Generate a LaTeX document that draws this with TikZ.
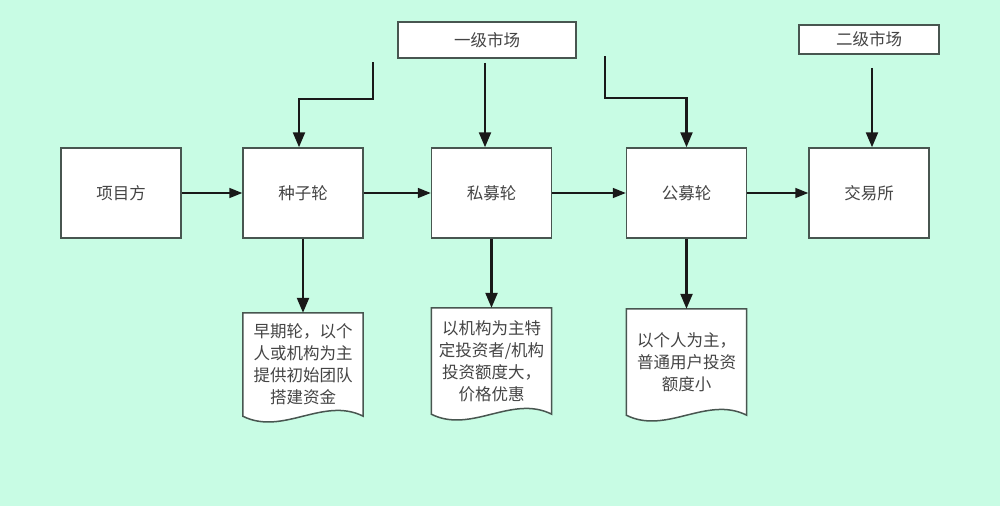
\documentclass[tikz,border=0pt]{standalone}
\usepackage{fontspec}
\setmainfont{Noto Sans CJK SC}
\usetikzlibrary{arrows.meta,backgrounds}
\definecolor{bgc}{RGB}{200,252,228}
\definecolor{edgec}{RGB}{72,86,80}
\definecolor{txtc}{RGB}{68,68,68}
\begin{document}
\begin{tikzpicture}[x=1pt,y=-1pt,
  lbl/.style={font=\fontsize{16.5}{22}\selectfont, text=txtc},
  box/.style={lbl, draw=edgec, fill=white, line width=1.5pt, minimum width=120pt, minimum height=90pt, inner sep=0pt},
  topbox/.style={lbl, draw=edgec, fill=white, line width=1.5pt, inner sep=0pt},
  docnode/.style={lbl, align=center, minimum width=120pt, inner sep=0pt},
  docline/.style={draw=edgec, fill=white, line width=1.5pt},
  harrow/.style={draw=black!90, line width=1.7pt, -{Triangle[length=13pt,width=10pt]}},
  varrow/.style={draw=black!90, line width=2.3pt, -{Triangle[length=15pt,width=12pt]}}
]
\useasboundingbox (0,0) rectangle (1000,506);
\begin{scope}[on background layer]
\fill[bgc] (0,0) rectangle (1000,506);
\end{scope}

% main row
\node[box] (xm)  at (121,193)   {项目方};
\node[box] (zz)  at (303,193)   {种子轮};
\node[box] (sm)  at (491.5,193) {私募轮};
\node[box] (gm)  at (686.5,193) {公募轮};
\node[box] (jys) at (869,193)   {交易所};

% top boxes
\node[topbox, minimum width=178pt, minimum height=36pt] (yj) at (487,40) {一级市场};
\node[topbox, minimum width=140pt, minimum height=29pt] (ej) at (869,39.5) {二级市场};

% documents
\node[docnode, minimum height=103pt] (d1) at (303,364.5) {早期轮，以个\\人或机构为主\\提供初始团队\\搭建资金};
\node[docnode, minimum height=106pt] (d2) at (491.5,361) {以机构为主特\\定投资者/机构\\投资额度大，\\价格优惠};
\node[docnode, minimum height=106pt] (d3) at (686.5,362) {以个人为主，\\普通用户投资\\额度小};

\begin{scope}[on background layer]
\foreach \d in {d1,d2,d3}{
  \path[docline] (\d.south west) -- (\d.north west) -- (\d.north east) -- (\d.south east)
    .. controls +(-40,-20) and +(40,20) .. (\d.south west) -- cycle;
}
\end{scope}

% horizontal arrows
\draw[harrow] (xm.east) -- (zz.west);
\draw[harrow] (zz.east) -- (sm.west);
\draw[harrow] (sm.east) -- (gm.west);
\draw[harrow] (gm.east) -- (jys.west);

% down arrows to documents
\draw[varrow] (zz.south) -- (d1.north);
\draw[varrow] (sm.south) -- (d2.north);
\draw[varrow] (gm.south) -- (d3.north);

% arrows from primary market
\coordinate (l1) at (373,62);
\coordinate (r1) at (605,56);
\draw[varrow] (l1) -- (373,99) -| ([xshift=-4pt]zz.north);
\draw[varrow] ([xshift=-2pt,yshift=-4pt]yj.south) -- ([xshift=-6.5pt]sm.north);
\draw[varrow] (r1) -- (605,98) -| (gm.north);

% arrow from secondary market
\draw[varrow] ([xshift=3pt,yshift=-13pt]ej.south) -- ([xshift=3pt]jys.north);
\end{tikzpicture}
\end{document}
